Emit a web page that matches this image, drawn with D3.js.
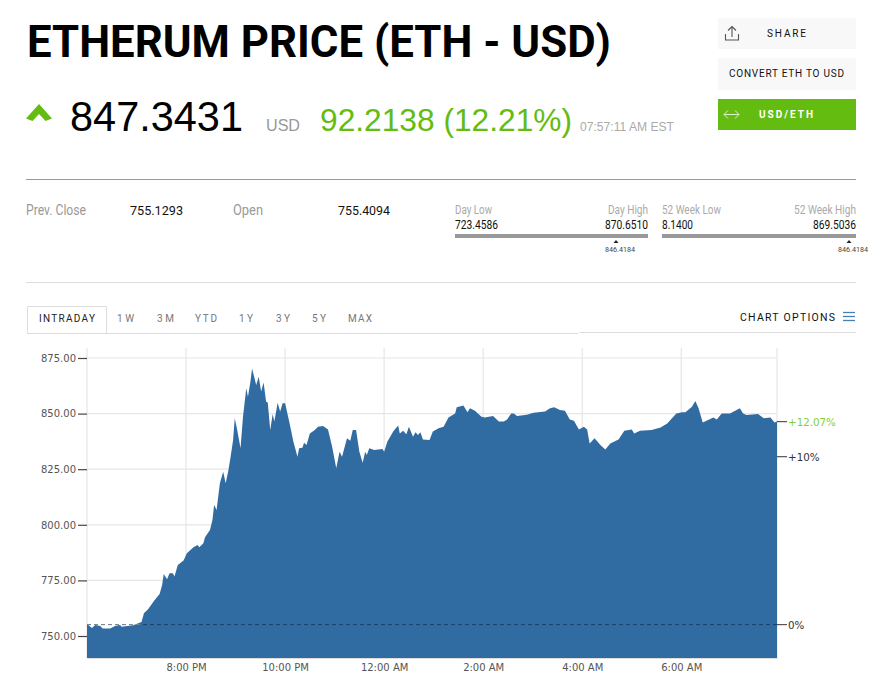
<!DOCTYPE html>
<html><head><meta charset="utf-8"><title>Etherum price</title>
<script src="https://cdn.jsdelivr.net/npm/d3@7"></script>
<style>html,body{margin:0;padding:0;background:#fff}svg{display:block}</style></head>
<body><div id="chart"></div>
<script>
// minutes after 6:00 PM
const minutes=[0,6,10,16,19,28,34,40,42,56,66,69,74,82,88,91,93,97,100,104,106,110,117,121,129,134,136,141,143,149,152,154,156,157,161,165,168,171,174,177,179,182,186,189,193,195,198,200,205,208,211,214,217,219,222,225,227,231,234,237,240,245,250,255,257,261,263,266,270,276,280,286,292,297,302,306,309,315,319,322,326,330,334,337,339,342,348,358,360,364,371,377,379,383,387,390,395,398,401,404,407,415,419,426,432,438,446,448,456,461,464,470,478,482,492,499,505,509,514,517,521,533,541,555,561,566,573,579,585,590,596,602,606,609,615,622,628,634,644,651,660,663,670,684,695,703,714,721,725,733,737,741,746,759,763,769,779,791,795,799,813,820,828,833,836];
const prices=[755.4,753.6,755,754.5,753.4,753.4,754.5,755,754.2,754.8,756.3,760.2,762,766.2,768.9,772.9,777.9,775.5,778.2,778.2,776.7,781.9,783.9,787.2,789.9,790.9,789.9,791.7,794.4,797.7,802.2,808.9,807.4,806.7,818.7,823.9,818.7,823.9,830.6,838.1,847.9,842.6,834.4,848.6,861.4,857.6,864.3,870.3,862.9,866.6,859.9,864,855.3,855,842.6,849.8,846.4,854.9,850.9,854.6,854.6,846.4,837.4,830.6,834.4,834.7,836.9,835.9,841.1,842.6,844.1,844.4,842.9,835.1,825.4,832.9,830.6,838.9,837.8,842.6,842.6,832.9,827.9,832.9,831.4,834.4,833.6,834.1,832.9,837.4,841.9,844.6,841.1,842.3,840.7,844.1,839.6,841.6,840.4,841.6,838.4,838.1,841.9,843.4,844.1,848.3,850.1,852.8,853.6,850.6,852.4,851.3,848.6,848.3,848.9,846.4,846.4,847.4,850.1,850.1,848.9,849.5,850.4,850.9,852.4,852.8,851.6,851.3,847.4,846.8,842.9,844.1,842.9,836.6,838.9,835.9,833.9,836.6,838.4,842.3,842.9,841.1,842.3,842.6,843.8,845.6,850.1,850.6,850.6,853.1,855.7,852.4,846,848.3,847.4,850.1,850.1,852.4,850.1,849.4,849.8,847.9,848.3,846,846.4];
const yTicks=[750,775,800,825,850,875];
const xTickMinutes=[120,240,360,480,600,720];
const xTickLabels=["8:00 PM","10:00 PM","12:00 AM","2:00 AM","4:00 AM","6:00 AM"];
const prevClose=755.1293;
const rightMarks=[{v:846.4,t:"+12.07%",c:"#7fd03c"},{v:830.64,t:"+10%",c:"#333"},{v:755.13,t:"0%",c:"#333"}];
const tabs=["INTRADAY","1W","3M","YTD","1Y","3Y","5Y","MAX"];
const tabX=[39,117,157,195,239,276,312,348];
const tabW=[56,17,17,22,14,14,14,24];

const W=879,H=680;
const svg=d3.select("#chart").append("svg").attr("width",W).attr("height",H).attr("viewBox",`0 0 ${W} ${H}`);
const ROB="Roboto, sans-serif",LIB="'Liberation Sans', sans-serif",DJ="'DejaVu Sans', sans-serif";
function T(x,y,s,size,fill,font,o={}){const e=svg.append("text").attr("x",x).attr("y",y).text(s).attr("font-size",size).attr("fill",fill).attr("font-family",font);
 if(o.anchor)e.attr("text-anchor",o.anchor);if(o.weight)e.attr("font-weight",o.weight);
 if(o.len)e.attr("textLength",o.len).attr("lengthAdjust","spacingAndGlyphs");
 if(o.sp)e.attr("textLength",o.sp).attr("lengthAdjust","spacing");return e;}
function L(x1,y1,x2,y2,c,w=1){svg.append("line").attr("x1",x1).attr("y1",y1).attr("x2",x2).attr("y2",y2).attr("stroke",c).attr("stroke-width",w);}

// header
T(27,57,"ETHERUM PRICE (ETH - USD)",45,"#000",ROB,{weight:700,len:584});
const GREEN="#64bc10";
svg.append("path").attr("d","M26 118.5 L39 104 L52 118.5 L45.5 121 L39 114 L32.5 121 Z").attr("fill",GREEN);
T(70,131,"847.3431",42,"#000",LIB,{len:173});
T(266,131,"USD",16,"#999",LIB,{len:34});
T(320,131,"92.2138 (12.21%)",32,GREEN,LIB,{len:252});
T(580,131,"07:57:11 AM EST",12.5,"#aaa",LIB,{len:94});

// buttons
svg.append("rect").attr("x",718).attr("y",18).attr("width",138).attr("height",31).attr("fill","#f8f8f8");
svg.append("rect").attr("x",718).attr("y",58).attr("width",138).attr("height",32).attr("fill","#f8f8f8");
svg.append("rect").attr("x",718).attr("y",99).attr("width",138).attr("height",31).attr("fill","#64bc10");
svg.append("path").attr("d","M725.5 34 V40 H738.5 V34 M732 37 V27 M728 30.5 L732 26.5 L736 30.5").attr("fill","none").attr("stroke","#555").attr("stroke-width",1.1);
T(767,37,"SHARE",10,"#111",ROB,{sp:39});
T(729,77,"CONVERT ETH TO USD",10,"#111",ROB,{sp:115});
T(759,118,"USD/ETH",10,"#fff",ROB,{weight:700,sp:54});
svg.append("path").attr("d","M724 114.5 H739 M728 110.5 L724 114.5 L728 118.5 M735 110.5 L739 114.5 L735 118.5").attr("fill","none").attr("stroke","#dff0cc").attr("stroke-width",1);

// stats
L(26,179.5,856,179.5,"#999");
T(26,215,"Prev. Close",14,"#999",ROB,{len:60});
T(130,215,"755.1293",13.5,"#111",ROB,{len:53});
T(233,215,"Open",14,"#999",ROB,{len:30});
T(338,215,"755.4094",13.5,"#111",ROB,{len:52});
T(455,214,"Day Low",12,"#aaa",ROB,{len:37});
T(608,214,"Day High",12,"#aaa",ROB,{len:40});
T(455,229,"723.4586",12,"#111",ROB,{len:43});
T(605,229,"870.6510",12,"#111",ROB,{len:43});
T(662,214,"52 Week Low",12,"#aaa",ROB,{len:59});
T(794,214,"52 Week High",12,"#aaa",ROB,{len:62});
T(662,229,"8.1400",12,"#111",ROB,{len:31});
T(813,229,"869.5036",12,"#111",ROB,{len:43});
svg.append("rect").attr("x",455).attr("y",234).attr("width",193).attr("height",4).attr("fill","#999");
svg.append("rect").attr("x",662).attr("y",234).attr("width",194).attr("height",4).attr("fill","#999");
[[616,605],[849,838]].forEach(([x,tx])=>{svg.append("path").attr("d",`M${x-2.5} 243 L${x} 240 L${x+2.5} 243 Z`).attr("fill","#222");
 T(tx,252,"846.4184",8,"#444",ROB,{len:30});});
L(26,282.5,856,282.5,"#ddd");

// tabs
svg.append("path").attr("d","M27.5 333 V306.5 H106.5 V333").attr("fill","none").attr("stroke","#ddd");
L(27,333.5,578,333.5,"#ddd");L(579,332.5,856,332.5,"#ddd");
tabs.forEach((t,i)=>T(tabX[i],322,t,10,i==0?"#222":"#777",ROB,{sp:tabW[i]}));
T(740,321,"CHART OPTIONS",10.5,"#111",ROB,{sp:95});
[312.5,316.5,320.5].forEach(y=>L(843,y,855,y,"#4a7fb5",1.3));

// chart
const x=d3.scaleLinear().domain([0,836]).range([87,777]);
const y=d3.scaleLinear().domain([750,875]).range([636,358]);
const bottom=658;
const data=minutes.map((m,i)=>({m,p:prices[i]}));
const grid=svg.append("g");
yTicks.forEach(v=>grid.append("line").attr("x1",87).attr("x2",777).attr("y1",y(v)).attr("y2",y(v)).attr("stroke","#e6e6e6").attr("stroke-width",1.2));
xTickMinutes.forEach(v=>grid.append("line").attr("x1",x(v)).attr("x2",x(v)).attr("y1",348).attr("y2",bottom).attr("stroke","#e6e6e6").attr("stroke-width",1.2));
[87,777].forEach(px=>grid.append("line").attr("x1",px).attr("x2",px).attr("y1",348).attr("y2",bottom).attr("stroke","#e6e6e6").attr("stroke-width",1.2));
const area=d3.area().x(d=>x(d.m)).y0(bottom).y1(d=>y(d.p)).curve(d3.curveLinear);
svg.append("path").datum(data).attr("d",area).attr("fill","#2c69a0").attr("fill-opacity",0.98);
// dashed previous close
svg.append("line").attr("x1",87).attr("x2",777).attr("y1",y(prevClose)).attr("y2",y(prevClose)).attr("stroke","#1d3f66").attr("stroke-width",1).attr("stroke-dasharray","4 3");
svg.append("line").attr("x1",87).attr("x2",141).attr("y1",y(prevClose)).attr("y2",y(prevClose)).attr("stroke","#aaa").attr("stroke-width",1).attr("stroke-dasharray","4 3").attr("opacity",.7);

const ay=svg.append("g").attr("transform","translate(87,0)").call(d3.axisLeft(y).tickValues(yTicks).tickFormat(d3.format(".2f")).tickSize(9).tickPadding(2));
ay.select(".domain").remove();
ay.selectAll("line").attr("stroke","#444").attr("stroke-width",1.2);
ay.selectAll("text").attr("font-family",DJ).attr("font-size",10).attr("fill","#555");
const ax=svg.append("g").attr("transform",`translate(0,${bottom})`).call(d3.axisBottom(x).tickValues(xTickMinutes).tickFormat((d,i)=>xTickLabels[i]).tickSize(0).tickPadding(6));
ax.select(".domain").attr("stroke","#ddd");
ax.selectAll("text").attr("font-family",DJ).attr("font-size",10).attr("fill","#555");
rightMarks.forEach(r=>{L(777,y(r.v),787,y(r.v),"#555",1.2);
 T(788,y(r.v)+4,r.t,10.3,r.c,DJ);});
</script></body></html>
